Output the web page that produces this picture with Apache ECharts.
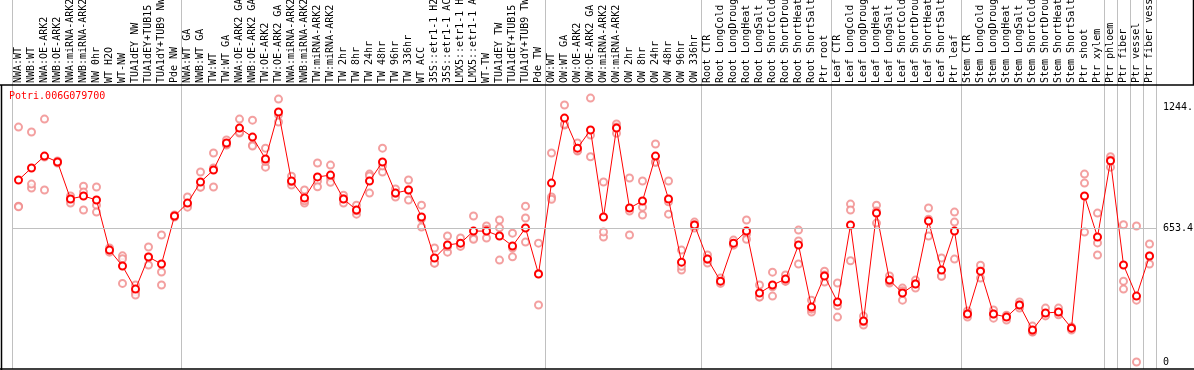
<!DOCTYPE html>
<html><head><meta charset="utf-8">
<script src="https://cdn.jsdelivr.net/npm/echarts@6/dist/echarts.min.js"></script>
<style>html,body{margin:0;padding:0;background:#fff}#c{width:1194px;height:370px}</style>
</head><body><div id="c"></div>
<script>
var categories = ["NWA:WT","NWB:WT","NWA:OE-ARK2","NWB:OE-ARK2","NWA:miRNA-ARK2","NWB:miRNA-ARK2","NW 0hr","WT H2O","WT-NW","TUA1dEY NW","TUA1dEY+TUB15 NW","TUA1dY+TUB9 NW","Pde NW",
"NWA:WT GA","NWB:WT GA","TW:WT","TW:WT GA","NWA:OE-ARK2 GA","NWB:OE-ARK2 GA","TW:OE-ARK2","TW:OE-ARK2 GA","NWA:miRNA-ARK2 GA","NWB:miRNA-ARK2 GA","TW:miRNA-ARK2","TW:miRNA-ARK2 GA","TW 2hr","TW 8hr","TW 24hr","TW 48hr","TW 96hr","TW 336hr","WT ACC","35S::etr1-1 H2O","35S::etr1-1 ACC","LMX5::etr1-1 H2O","LMX5::etr1-1 ACC","WT-TW","TUA1dEY TW","TUA1dEY+TUB15 TW","TUA1dY+TUB9 TW","Pde TW",
"OW:WT","OW:WT GA","OW:OE-ARK2","OW:OE-ARK2 GA","OW:miRNA-ARK2","OW:miRNA-ARK2 GA","OW 2hr","OW 8hr","OW 24hr","OW 48hr","OW 96hr","OW 336hr",
"Root CTR","Root LongCold","Root LongDrought","Root LongHeat","Root LongSalt","Root ShortCold","Root ShortDrought","Root ShortHeat","Root ShortSalt","Ptr root",
"Leaf CTR","Leaf LongCold","Leaf LongDrought","Leaf LongHeat","Leaf LongSalt","Leaf ShortCold","Leaf ShortDrought","Leaf ShortHeat","Leaf ShortSalt","Ptr leaf",
"Stem CTR","Stem LongCold","Stem LongDrought","Stem LongHeat","Stem LongSalt","Stem ShortCold","Stem ShortDrought","Stem ShortHeat","Stem ShortSalt","Ptr shoot","Ptr xylem",
"Ptr phloem","Ptr fiber","Ptr vessel","Ptr fiber vessel"];

var meanValues = [891,950,1008,979,798,813,793,548,470,357,514,480,715,
778,881,940,1072,1145,1101,994,1224,886,803,906,915,798,744,886,979,827,842,710,509,573,582,641,641,617,568,656,431,
876,1194,1047,1136,710,1145,754,788,1008,798,489,671,
504,396,582,641,338,377,406,573,269,421,
294,671,201,729,401,338,382,690,450,641,
235,445,235,220,279,157,240,245,166,813,612,
985,475,323,519];

var rep1 = [1150,1126,1189,984,813,861,857,558,520,377,563,622,715,
808,930,1023,1087,1189,1184,1047,1287,910,842,974,964,817,768,920,1047,847,891,768,558,617,607,715,666,695,631,763,582,
1023,1258,1072,1292,881,1165,901,886,1067,886,548,685,
524,411,597,695,377,440,426,646,303,445,
387,773,225,768,421,362,401,754,509,734,
250,450,255,225,294,176,264,264,171,920,729,
1005,672,666,578];
var rep2 = [763,852,1003,974,793,832,768,538,505,343,514,441,710,
768,857,950,1062,1121,1062,954,1175,866,778,886,901,778,724,827,930,808,793,661,485,538,573,607,607,499,558,705,279,
808,1160,1033,1111,612,1150,739,720,979,724,450,656,
485,392,577,627,318,323,396,480,245,426,
220,744,181,739,387,303,362,617,421,685,
220,411,215,206,264,147,230,240,157,876,524,
989,396,0,519];
var rep3 = [760,871,842,979,778,744,734,548,385,328,475,377,720,
758,856,857,1067,1125,1057,981,1210,882,789,858,880,799,740,911,960,826,842,701,484,564,566,601,650,657,515,587,432,
797,1164,1036,1005,637,1120,622,758,978,784,469,672,
503,385,572,601,319,368,396,593,259,392,
275,496,197,680,395,349,383,699,420,504,
235,474,235,229,279,148,226,231,170,636,583,
954,357,303,480];

var yTickValues = [0, 653.4, 1244.8];
var yTickLabels = ["0", "653.4", "1244."];
var groupBoundaries = [0, 13, 41, 53, 63, 73, 84, 85, 86, 87, 88];

var repData = [];
[rep1, rep2, rep3].forEach(function (r) {
  r.forEach(function (v, i) { repData.push([i, v]); });
});

var splitFn = function (index) { return groupBoundaries.indexOf(index) >= 0; };
var mono = 'DejaVu Sans Mono';

var chart = echarts.init(document.getElementById('c'), null, {renderer: 'canvas'});
chart.setOption({
  animation: false,
  title: {
    text: 'Potri.006G079700', left: 9, top: 91, padding: 0,
    textStyle: {color: '#ff0000', fontFamily: mono, fontSize: 10, fontWeight: 'normal'}
  },
  grid: [
    {left: 12, right: 38, top: 85, bottom: 1, containLabel: false, outerBoundsMode: 'none'},
    {left: 12, right: 38, top: 0, height: 85, containLabel: false, outerBoundsMode: 'none'}
  ],
  xAxis: [
    {
      type: 'category', gridIndex: 0, position: 'top', data: categories,
      axisLine: {show: false}, axisTick: {show: false},
      axisLabel: {interval: 0, rotate: 90, margin: 2, color: '#000', fontFamily: mono, fontSize: 10, hideOverlap: false},
      splitLine: {show: true, interval: splitFn, lineStyle: {color: '#c0c0c0', width: 1}}
    },
    {
      type: 'category', gridIndex: 1, data: categories,
      axisLine: {show: false}, axisTick: {show: false}, axisLabel: {show: false},
      splitLine: {show: true, interval: splitFn, lineStyle: {color: '#c0c0c0', width: 1}}
    }
  ],
  yAxis: [
    {
      type: 'value', gridIndex: 0, position: 'right', min: -34, max: 1356,
      axisLine: {show: false}, axisTick: {show: false}, splitLine: {show: false},
      axisLabel: {
        customValues: yTickValues, margin: 7, color: '#000', fontFamily: mono, fontSize: 10,
        formatter: function (v) {
          for (var k = 0; k < yTickValues.length; k++) if (Math.abs(v - yTickValues[k]) < 1e-6) return yTickLabels[k];
          return '';
        }
      }
    },
    {type: 'value', gridIndex: 1, show: false}
  ],
  series: [
    {
      type: 'scatter', xAxisIndex: 0, yAxisIndex: 0, data: repData,
      symbol: 'emptyCircle', symbolSize: 7,
      itemStyle: {color: '#f08888', borderColor: '#f08888', borderWidth: 1.2},
      z: 2,
      markLine: {
        silent: true, symbol: 'none', label: {show: false},
        lineStyle: {color: '#c0c0c0', type: 'solid', width: 1},
        data: [{yAxis: yTickValues[1]}]
      }
    },
    {
      type: 'line', xAxisIndex: 0, yAxisIndex: 0, data: meanValues,
      symbol: 'emptyCircle', symbolSize: 7,
      lineStyle: {color: '#ff0000', width: 1},
      itemStyle: {color: '#ff0000', borderColor: '#cc0000', borderWidth: 1.5},
      z: 3
    }
  ],
  graphic: [
    {type: 'line', shape: {x1: 0, y1: 85, x2: 1194, y2: 85}, style: {stroke: '#000', lineWidth: 1.5}, z: 10},
    {type: 'line', shape: {x1: 1.5, y1: 85, x2: 1.5, y2: 370}, style: {stroke: '#000', lineWidth: 1.5}, z: 10},
    {type: 'line', shape: {x1: 0, y1: 369, x2: 1194, y2: 369}, style: {stroke: '#000', lineWidth: 1.5}, z: 10},
    {type: 'line', shape: {x1: 1193.5, y1: 0, x2: 1193.5, y2: 85}, style: {stroke: '#000', lineWidth: 1.5}, z: 10}
  ]
});
</script></body></html>
